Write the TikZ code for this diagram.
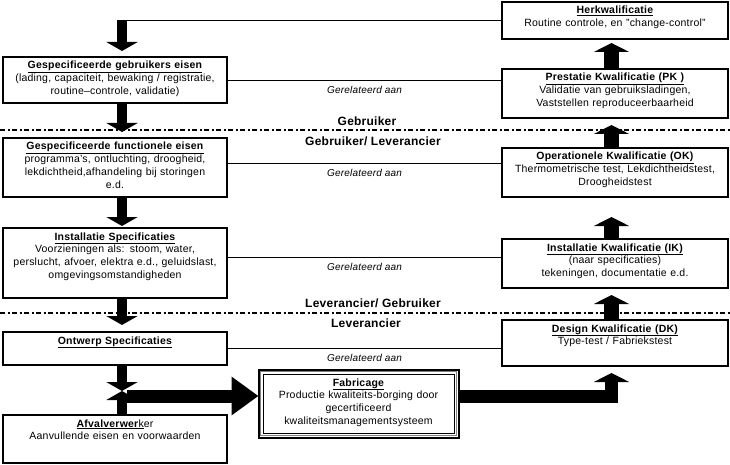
\documentclass[tikz,border=0pt]{standalone}
\usepackage{fontspec}
\setmainfont[LetterSpace=2]{Liberation Sans}
\usetikzlibrary{arrows.meta,positioning,calc}
\newcommand{\titel}[1]{\underline{\textbf{#1}}}

\begin{document}
\begin{tikzpicture}[x=1pt, y=-1pt,
    box/.style={
      rectangle, draw=black, line width=1.2pt, fill=white, outer sep=0pt,
      text width=218pt, inner xsep=3pt, inner ysep=4pt, text height=8pt,
      align=center, font=\fontsize{10.5}{12.8}\selectfont
    },
    rbox/.style={box, text width=220pt},
    lijn/.style={draw=black, line width=0.9pt},
    relatie/.style={font=\fontsize{10}{11}\selectfont\itshape, below=2pt, midway},
    grens/.style={line width=1.6pt, dash pattern=on 5pt off 2.5pt on 2pt off 2.5pt},
    grenslabel/.style={font=\fontsize{12}{13}\selectfont\bfseries},
    pijl/.style={line width=10pt, -{Triangle[width=31pt, length=9pt]}},
    rpijl/.style={line width=15pt, -{Triangle[width=35pt, length=9pt]}},
    hpijl/.style={line width=13pt, -{Triangle[width=37pt, length=27pt]}}
  ]
    \useasboundingbox (0,0) rectangle (730,465);

    % kolommen voor de pijlen
    \coordinate (lk) at (122,0);
    \coordinate (rk) at (611.5,0);

    % linker kolom: specificaties
    \node[box, anchor=north west, text depth=30pt] (gge) at (3,57)
      {\titel{Gespecificeerde gebruikers eisen}\\(lading, capaciteit, bewaking / registratie,\\routine–controle, validatie)};
    \node[box, below=35pt of gge, text depth=43pt] (gfe)
      {\titel{Gespecificeerde functionele eisen}\\programma's, ontluchting, droogheid,\\lekdichtheid,afhandeling bij storingen\\e.d.};
    \node[box, below=31pt of gfe, text depth=54pt] (ins)
      {\titel{Installatie Specificaties}\\Voorzieningen als: stoom, water,\\perslucht, afvoer, elektra e.d., geluidslast,\\omgevingsomstandigheden};
    \node[box, below=34pt of ins, text depth=17pt] (ont)
      {\titel{Ontwerp Specificaties}};
    \node[box, below=50pt of ont, text depth=32pt] (afv)
      {\underline{\textbf{Afvalverwer}k}er\\Aanvullende eisen en voorwaarden};

    % rechter kolom: kwalificaties
    \node[rbox, anchor=north west, text depth=21pt] (herk) at (502,2)
      {\titel{Herkwalificatie}\\Routine controle, en "change-control"};
    \node[rbox, below=30pt of herk, text depth=33pt] (pk)
      {\titel{Prestatie Kwalificatie (PK )}\\Validatie van gebruiksladingen,\\Vaststellen reproduceerbaarheid};
    \node[rbox, below=30pt of pk, text depth=33pt] (ok)
      {\titel{Operationele Kwalificatie (OK)}\\Thermometrische test, Lekdichtheidstest,\\Droogheidstest};
    \node[rbox, below=42pt of ok, text depth=33pt] (ik)
      {\titel{Installatie Kwalificatie (IK)}\\(naar specificaties)\\tekeningen, documentatie e.d.};
    \node[rbox, below=32pt of ik, text depth=30pt] (dk)
      {\titel{Design Kwalificatie (DK)}\\Type-test / Fabriekstest};

    % fabricage met drievoudige rand
    \node[box, anchor=north west, text width=185pt, text depth=43pt, line width=0.8pt] (fab) at (263,374)
      {\titel{Fabricage}\\Productie kwaliteits-borging door\\gecertificeerd\\kwaliteitsmanagementsysteem};
    \draw[line width=2pt] ([shift={(-4.5pt,4.5pt)}]fab.north west) rectangle ([shift={(4.5pt,-4.5pt)}]fab.south east);
    \draw[gray, line width=0.9pt] ([shift={(-2.3pt,2.3pt)}]fab.north west) rectangle ([shift={(2.3pt,-2.3pt)}]fab.south east);

    % grenzen gebruiker / leverancier
    \coordinate (grensAw) at (0,130);
    \coordinate (grensAo) at (730,130);
    \coordinate (grensBw) at (0,313);
    \coordinate (grensBo) at (730,313);
    \draw[grens] (grensAw) -- (grensAo);
    \draw[grens] (grensBw) -- (grensBo);
    \node[grenslabel] (gebA) at (367,121) {Gebruiker};
    \node[grenslabel] (gebB) at (373,141) {Gebruiker/ Leverancier};
    \node[grenslabel] (levA) at (373,303) {Leverancier/ Gebruiker};
    \node[grenslabel] (levB) at (366,323) {Leverancier};

    % gerelateerd aan
    \draw[lijn] (gge.east) -- node[relatie] {Gerelateerd aan} (gge.east -| pk.west);
    \draw[lijn] ([yshift=4.5pt]gfe.east) -- node[relatie] {Gerelateerd aan} ([yshift=4.5pt]gfe.east -| ok.west);
    \draw[lijn] ([yshift=6pt]ins.east) -- node[relatie] {Gerelateerd aan} ([yshift=6pt]ins.east -| ik.west);
    \draw[lijn] (ont.east) -- node[relatie] {Gerelateerd aan} (ont.east -| dk.west);

    % terugkoppeling
    \coordinate (terug) at (lk |- herk.west);
    \draw[lijn] (herk.west) -- (terug);
    \draw[pijl] (terug) -- ([yshift=6pt]gge.north -| lk);

    % pijlen links
    \draw[pijl] (gge.south -| lk) -- ([yshift=6pt]gfe.north -| lk);
    \draw[pijl] (gfe.south -| lk) -- ([yshift=2pt]ins.north -| lk);
    \draw[pijl] (ins.south -| lk) -- ([yshift=7pt]ont.north -| lk);
    \coordinate (kruis) at (122,391);
    \draw[pijl] (ont.south -| lk) -- (kruis);
    \draw[pijl] (afv.north -| lk) -- (kruis);
    \coordinate (balk) at (127,396);
    \draw[hpijl] (balk) -- ([xshift=-4.5pt]fab.west |- balk);

    % pijlen rechts
    \draw[rpijl, line width=13pt] ([xshift=4.5pt]fab.east |- balk) -| ([yshift=-7pt]dk.south -| rk);
    \draw[rpijl] (dk.north -| rk) -- ([yshift=-7pt]ik.south -| rk);
    \draw[rpijl] (ik.north -| rk) -- ([yshift=-20pt]ok.south -| rk);
    \draw[rpijl] (ok.north -| rk) -- ([yshift=-7pt]pk.south -| rk);
    \draw[rpijl] (pk.north -| rk) -- ([yshift=-4pt]herk.south -| rk);
  \end{tikzpicture}
\end{document}
